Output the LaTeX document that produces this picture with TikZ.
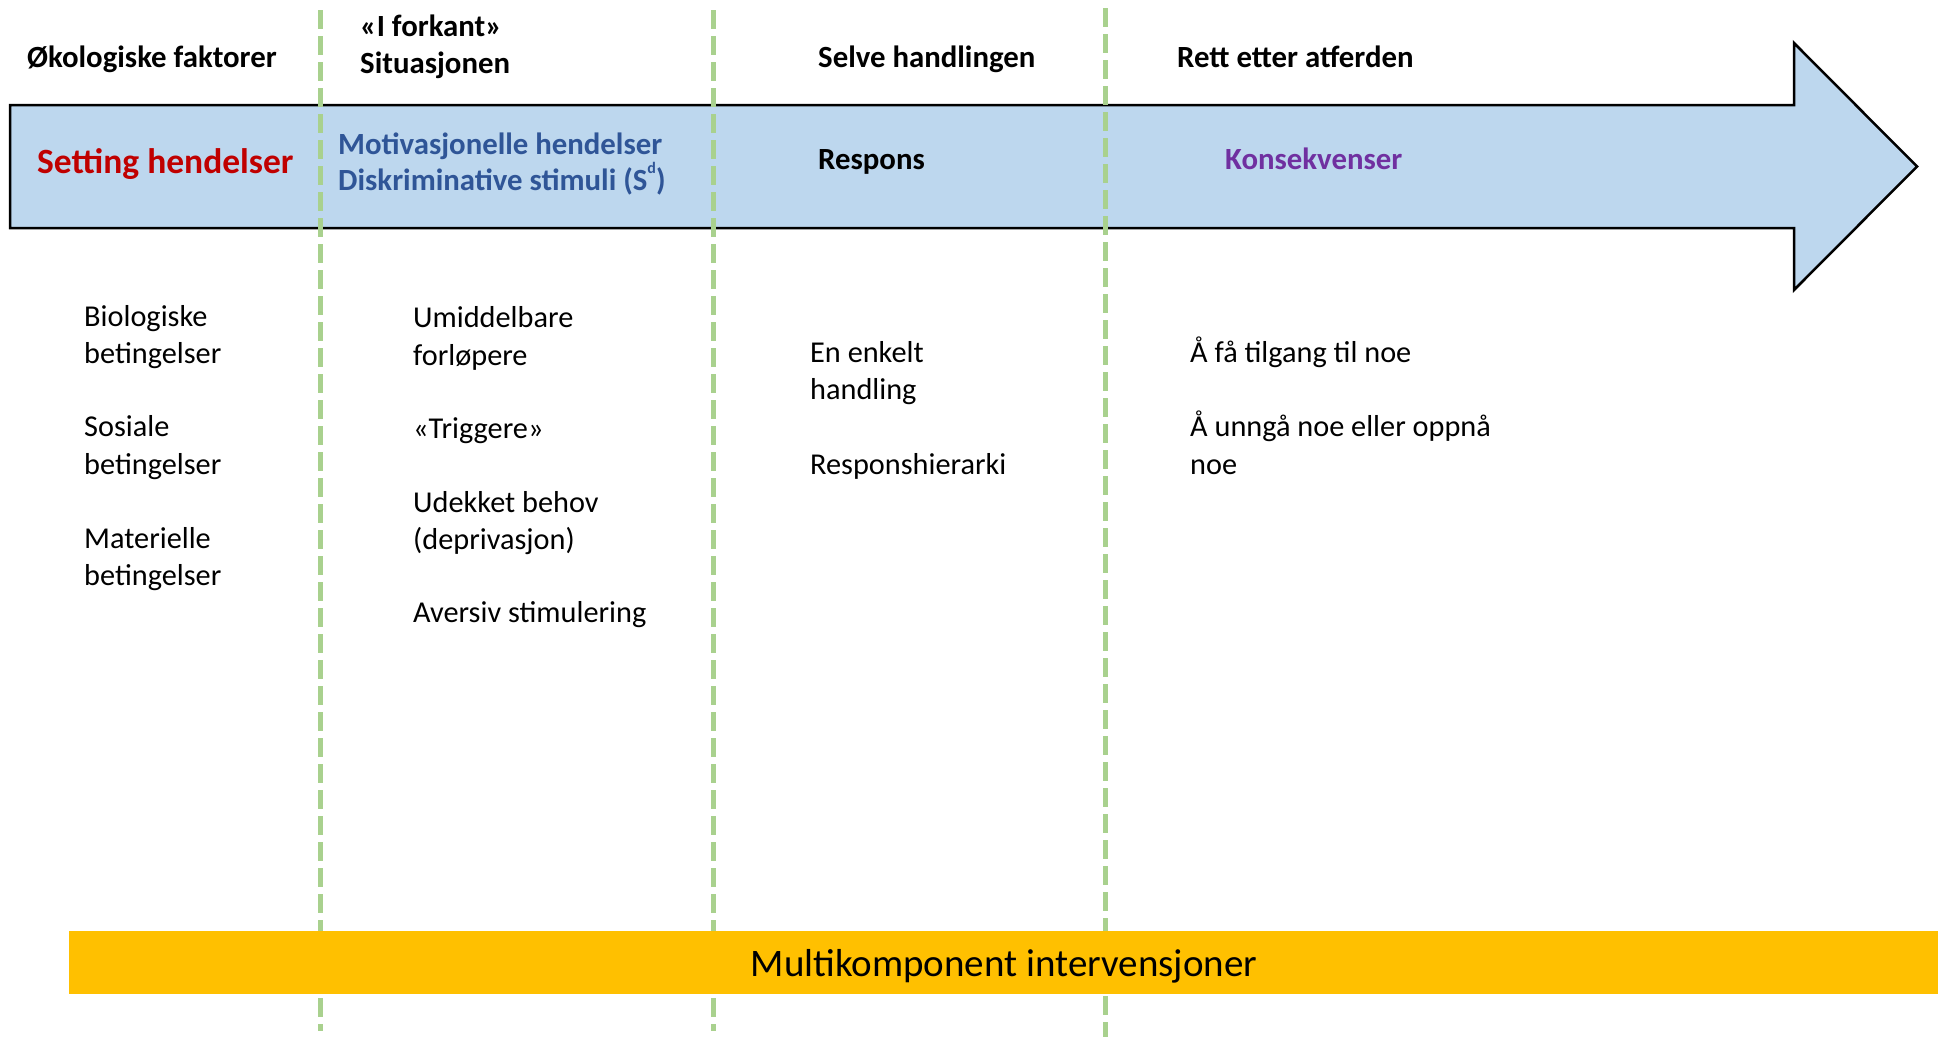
\documentclass[tikz,border=0pt]{standalone}
\usepackage{fontspec}
\setmainfont{Carlito}
\definecolor{arrowblue}{HTML}{BDD7EE}
\definecolor{txtblue}{HTML}{2F5597}
\definecolor{txtred}{HTML}{C00000}
\definecolor{txtpurple}{HTML}{7030A0}
\definecolor{dashgreen}{HTML}{A9D18E}
\definecolor{barorange}{HTML}{FFC000}
\tikzset{
  hdr/.style={anchor=base west, inner sep=0pt, font=\fontsize{30.8}{36}\selectfont\bfseries},
  body/.style={anchor=base west, inner sep=0pt, font=\fontsize{30.3}{37}\selectfont},
  sep/.style={draw=dashgreen, line width=5pt, dash pattern=on 19pt off 7pt},
}
\begin{document}
\begin{tikzpicture}[x=1pt,y=-1pt]
\useasboundingbox (0,0) rectangle (1944,1037);
% big arrow
\draw[fill=arrowblue, draw=black, line width=2.5pt, line join=miter]
  (10,105) -- (1794,105) -- (1794,43) -- (1917,166.5) -- (1794,290) -- (1794,228) -- (10,228) -- cycle;
% dashed separators
\draw[sep] (320,10) -- (320,1031);
\draw[sep] (713,10) -- (713,1031);
\draw[sep] (1105,8) -- (1105,1037);
% orange bar
\fill[barorange] (69,931) rectangle (1938,994);
\node[anchor=base, inner sep=0pt, font=\fontsize{39}{46}\selectfont] (multi) at (1004,976) {Multikomponent intervensjoner};
% headers
\node[hdr] (h1) at (27,67) {Økologiske faktorer};
\node[hdr] (h2a) at (360,36) {«I forkant»};
\node[hdr] (h2b) at (360,73) {Situasjonen};
\node[hdr] (h3) at (818,67) {Selve handlingen};
\node[hdr] (h4) at (1177,67) {Rett etter atferden};
% arrow labels
\node[hdr, font=\fontsize{35.5}{40}\selectfont\bfseries, text=txtred] (set) at (37,173) {Setting hendelser};
\node[hdr, text=txtblue] (mot) at (338,154) {Motivasjonelle hendelser};
\node[hdr, text=txtblue] (dis) at (338,190) {Diskriminative stimuli (S\raisebox{0.55em}{\fontsize{16}{16}\selectfont d})};
\node[hdr] (resp) at (818,169) {Respons};
\node[hdr, text=txtpurple] (kons) at (1225,169) {Konsekvenser};
% column 1
\node[body] (c1a) at (84,326) {Biologiske};
\node[body] (c1b) at (84,363) {betingelser};
\node[body] (c1c) at (84,436) {Sosiale};
\node[body] (c1d) at (84,474) {betingelser};
\node[body] (c1e) at (84,548) {Materielle};
\node[body] (c1f) at (84,585) {betingelser};
% column 2
\node[body] (c2a) at (413,327) {Umiddelbare};
\node[body] (c2b) at (413,365) {forløpere};
\node[body] (c2c) at (413,438) {«Triggere»};
\node[body] (c2d) at (413,512) {Udekket behov};
\node[body] (c2e) at (413,549) {(deprivasjon)};
\node[body] (c2f) at (413,622) {Aversiv stimulering};
% column 3
\node[body] (c3a) at (810,362) {En enkelt};
\node[body] (c3b) at (810,399) {handling};
\node[body] (c3c) at (810,474) {Responshierarki};
% column 4
\node[body] (c4a) at (1190,362) {Å få tilgang til noe};
\node[body] (c4b) at (1190,436) {Å unngå noe eller oppnå};
\node[body] (c4c) at (1190,474) {noe};
\end{tikzpicture}
\end{document}
